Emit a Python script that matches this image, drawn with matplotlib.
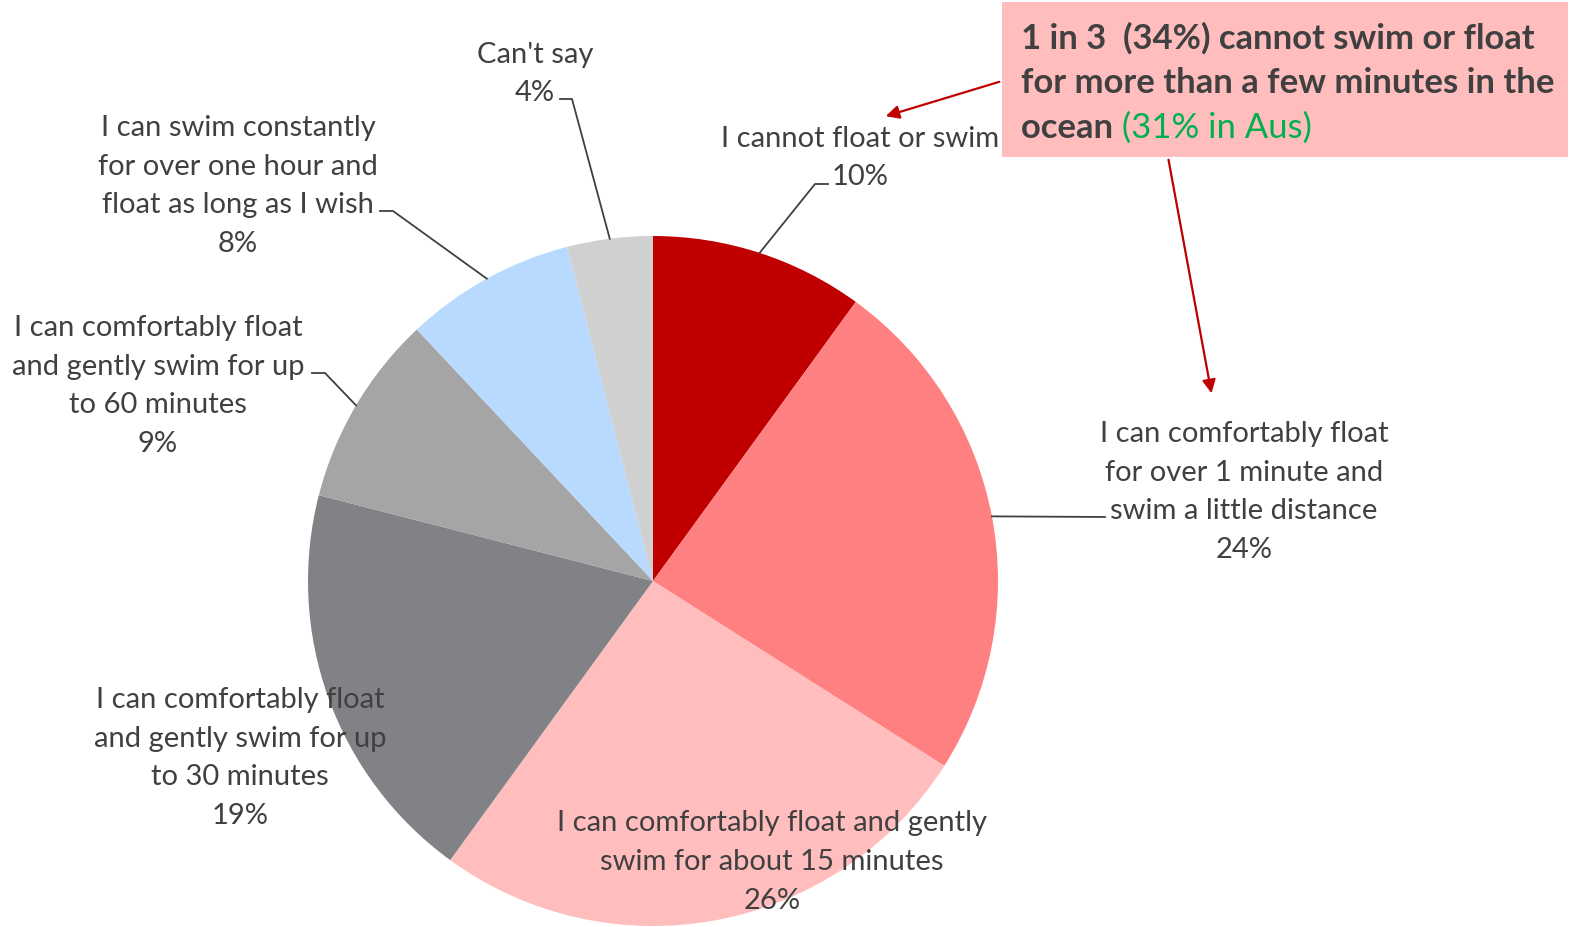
import matplotlib
matplotlib.use('Agg')
import matplotlib.pyplot as plt
from matplotlib.patches import Rectangle
import numpy as np

plt.rcParams['font.family'] = ['Lato', 'DejaVu Sans']

labels = ["I cannot float or swim",
          "I can comfortably float\nfor over 1 minute and\nswim a little distance",
          "I can comfortably float and gently\nswim for about 15 minutes",
          "I can comfortably float\nand gently swim for up\nto 30 minutes",
          "I can comfortably float\nand gently swim for up\nto 60 minutes",
          "I can swim constantly\nfor over one hour and\nfloat as long as I wish",
          "Can't say"]
values = [10, 24, 26, 19, 9, 8, 4]
colors = ['#C00000', '#FF8080', '#FFBDBD', '#808285', '#A5A5A6', '#B8DAFF', '#D0D0D0']

W, H = 1570, 928
TXT = '#404040'

fig = plt.figure(figsize=(W / 100, H / 100), dpi=100)
ax = fig.add_axes([0, 0, 1, 1])

cx, cy, r = 653, H - 582, 345
wedges, _ = ax.pie(values, colors=colors, startangle=90, counterclock=False,
                   center=(cx, cy), radius=r, wedgeprops=dict(linewidth=0))
ax.set_xlim(0, W)
ax.set_ylim(0, H)
ax.set_aspect('equal')
ax.axis('off')

def Y(y):
    return H - y

# label centre (x, y of text centre in pixel coords from top), elbow points or None
label_pos = [(860, 158), (1244, 492), (772, 862), (240, 758), (158, 386), (238, 186), (535, 74)]
elbows = [[(815, 185), (828, 185)],
          [(1105, 518)],
          None,
          None,
          [(325, 374), (312, 374)],
          [(393, 212), (380, 212)],
          [(572, 100), (560, 100)]]

for w, lab, v, pos, el in zip(wedges, labels, values, label_pos, elbows):
    s = f"{lab}\n{v}%"
    ax.text(pos[0], Y(pos[1]), s, ha='center', va='center', ma='center',
            fontsize=21, color=TXT, linespacing=1.6)
    if el:
        th = np.deg2rad((w.theta1 + w.theta2) / 2)
        x0, y0 = cx + r * np.cos(th), cy + r * np.sin(th)
        xs = [x0] + [p[0] for p in el]
        ys = [y0] + [Y(p[1]) for p in el]
        ax.plot(xs, ys, color=TXT, lw=1.3)

# callout box
ax.add_patch(Rectangle((1002, Y(158)), 566, 155, facecolor='#FFBDBD', edgecolor='none'))
tfs = 24.9
ax.text(1021, Y(38), "1 in 3  (34%) cannot swim or float", ha='left', va='center',
        fontsize=tfs, fontweight='bold', color=TXT)
ax.text(1021, Y(83), "for more than a few minutes in the", ha='left', va='center',
        fontsize=tfs, fontweight='bold', color=TXT)
t3 = ax.text(1021, Y(128), "ocean ", ha='left', va='center',
             fontsize=tfs, fontweight='bold', color=TXT)
fig.canvas.draw()
bb = t3.get_window_extent(renderer=fig.canvas.get_renderer())
ax.text(bb.x1, Y(128), "(31% in Aus)", ha='left', va='center',
        fontsize=tfs, color='#00B050')

arrow = dict(arrowstyle='-|>', color='#C00000', lw=1.6, mutation_scale=20)
ax.annotate('', xy=(883, Y(118)), xytext=(1002, Y(82)), arrowprops=arrow)
ax.annotate('', xy=(1212, Y(397)), xytext=(1168, Y(158)), arrowprops=arrow)

fig.savefig('out.png', dpi=100, facecolor='white')
